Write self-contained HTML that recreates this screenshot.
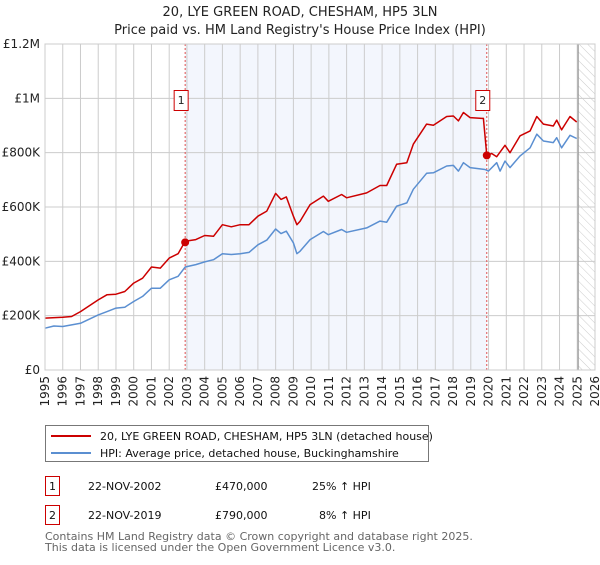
<!DOCTYPE html>
<html><head><meta charset="utf-8">
<style>
body{margin:0;background:#fff;font-family:"Liberation Sans","DejaVu Sans",sans-serif;}
svg text{font-family:"DejaVu Sans","Liberation Sans",sans-serif;}
</style></head>
<body>
<svg id="chart" width="600" height="560" viewBox="0 0 600 560" xmlns="http://www.w3.org/2000/svg">
<defs>
<pattern id="hatch" width="6" height="6" patternUnits="userSpaceOnUse" patternTransform="rotate(-45)">
<line x1="0" y1="0" x2="0" y2="6" stroke="#ccc" stroke-width="1"/>
</pattern>
</defs>
<text x="300" y="16" text-anchor="middle" font-size="13" fill="#222">20, LYE GREEN ROAD, CHESHAM, HP5 3LN</text>
<text x="300" y="34" text-anchor="middle" font-size="13" fill="#222">Price paid vs. HM Land Registry's House Price Index (HPI)</text>
<g id="plot"></g>
<g>
<rect x="45.5" y="425.5" width="383" height="36" fill="#fff" stroke="#777"/>
<line x1="51" y1="436" x2="91" y2="436" stroke="#cc0000" stroke-width="2"/>
<text x="100" y="440" font-size="11" fill="#111">20, LYE GREEN ROAD, CHESHAM, HP5 3LN (detached house)</text>
<line x1="51" y1="453" x2="91" y2="453" stroke="#5b8fd1" stroke-width="2"/>
<text x="100" y="457" font-size="11" fill="#111">HPI: Average price, detached house, Buckinghamshire</text>
</g>
<g font-size="11" fill="#111">
<rect x="45.5" y="476.5" width="14" height="19" fill="#fff" stroke="#cc0000"/>
<text x="52.5" y="490" text-anchor="middle">1</text>
<text x="88" y="490">22-NOV-2002</text>
<text x="215" y="490">£470,000</text>
<text x="312" y="490">25% ↑ HPI</text>
<rect x="45.5" y="505.5" width="14" height="19" fill="#fff" stroke="#cc0000"/>
<text x="52.5" y="519" text-anchor="middle">2</text>
<text x="88" y="519">22-NOV-2019</text>
<text x="215" y="519">£790,000</text>
<text x="319" y="519">8% ↑ HPI</text>
</g>
<text x="45" y="540" font-size="11" fill="#666">Contains HM Land Registry data © Crown copyright and database right 2025.</text>
<text x="45" y="551" font-size="11" fill="#666">This data is licensed under the Open Government Licence v3.0.</text>
</svg>
<script>
const yearTicks=[1995,1996,1997,1998,1999,2000,2001,2002,2003,2004,2005,2006,2007,2008,2009,2010,2011,2012,2013,2014,2015,2016,2017,2018,2019,2020,2021,2022,2023,2024,2025,2026];
const valueTicks=[0,200000,400000,600000,800000,1000000,1200000];
const valueLabels=["£0","£200K","£400K","£600K","£800K","£1M","£1.2M"];
const hpiYears=[1995,1995.5,1996,1997,1998,1998.5,1999,1999.5,2000,2000.5,2001,2001.5,2002,2002.5,2002.9,2003.5,2004,2004.5,2005,2005.5,2006,2006.5,2007,2007.5,2008,2008.3,2008.6,2009,2009.2,2009.37,2009.94,2010.69,2010.97,2011.72,2012.0,2013.13,2013.88,2014.26,2014.82,2015.39,2015.76,2016.51,2016.89,2017.64,2018.02,2018.3,2018.58,2018.96,2019.8,2019.99,2020.46,2020.65,2020.93,2021.21,2021.78,2022.34,2022.72,2023.09,2023.65,2023.84,2024.12,2024.59,2024.97];
const hpiValues=[154,162,160,172,203,215,228,231,252,271,301,301,332,345,379,388,398,406,428,425,428,433,461,478,519,502,511,468,428,437,480,510,498,517,507,523,548,544,603,615,665,724,726,751,753,732,763,745,738,732,763,732,769,745,788,818,868,843,837,855,818,864,852];
const propYears=[1995,1996,1996.5,1997,1998,1998.5,1999,1999.5,2000,2000.5,2001,2001.5,2002,2002.5,2002.9,2003.5,2004,2004.5,2005,2005.5,2006,2006.5,2007,2007.5,2008,2008.3,2008.6,2009,2009.2,2009.37,2009.94,2010.69,2010.97,2011.72,2012.0,2013.13,2013.88,2014.26,2014.82,2015.39,2015.76,2016.51,2016.89,2017.64,2018.02,2018.3,2018.58,2018.96,2019.61,2019.71,2019.9,2020.18,2020.46,2020.93,2021.21,2021.78,2022.34,2022.72,2023.09,2023.65,2023.84,2024.12,2024.59,2024.97];
const propValues=[191,194,197,215,258,277,279,289,320,338,379,375,412,428,474,480,495,492,535,527,535,535,566,585,650,628,637,566,535,547,609,640,621,646,634,652,679,679,757,763,831,905,901,933,935,917,948,929,926,926,790,797,785,827,800,862,880,933,905,898,920,884,933,913];
const saleYears=[2002.9,2019.9];
const saleValues=[470,790];
const saleLabels=["1","2"];

const X0=45,X1=595,Y0=370,Y1=44;
const xs=y=>X0+(y-1995)/(2026-1995)*(X1-X0);
const ys=v=>Y0-v/1200000*(Y0-Y1);
const NS="http://www.w3.org/2000/svg";
const g=document.getElementById('plot');
function mk(tag,attrs,parent){const e=document.createElementNS(NS,tag);for(const k in attrs)e.setAttribute(k,attrs[k]);(parent||g).appendChild(e);return e;}

const shade=mk('rect',{x:xs(saleYears[0]),y:Y1,width:xs(saleYears[1])-xs(saleYears[0]),height:Y0-Y1,fill:'#eef2fc',opacity:0.7});


const hat=mk('rect',{x:xs(2025.05),y:Y1,width:X1-xs(2025.05),height:Y0-Y1,fill:'url(#hatch)'});



yearTicks.forEach(yr=>{
  const l=mk('line',{x1:xs(yr),x2:xs(yr),y1:Y1,y2:Y0,stroke:'#ccc','stroke-width':1});
  
  
  const t=mk('text',{x:0,y:0,'font-size':12,fill:'#222','text-anchor':'end',transform:`translate(${xs(yr)+4},${Y0+6}) rotate(-90)`});
  t.textContent=yr;
  
  
});
valueTicks.forEach((v,i)=>{
  const l=mk('line',{x1:X0,x2:X1,y1:ys(v),y2:ys(v),stroke:'#ccc','stroke-width':1});
  
  
  const t=mk('text',{x:40,y:ys(v)+4,'font-size':12,fill:'#222','text-anchor':'end'});
  t.textContent=valueLabels[i];
  
  
});
const vl=mk('line',{x1:xs(2025.05),x2:xs(2025.05),y1:Y1,y2:Y0,stroke:'#999','stroke-width':1.2});



saleYears.forEach((yr,i)=>{
  const l=mk('line',{x1:xs(yr),x2:xs(yr),y1:Y1,y2:Y0,stroke:'#e05050','stroke-width':1,'stroke-dasharray':'2,2'});
  
  
});

function path(xa,va,color,name){
  const d=xa.map((x,i)=>(i?'L':'M')+xs(x).toFixed(1)+','+ys(va[i]*1000).toFixed(1)).join('');
  const p=mk('path',{d:d,fill:'none',stroke:color,'stroke-width':1.5,'stroke-linejoin':'round'});
  
  
}
path(hpiYears,hpiValues,'#5b8fd1','hpi-line');
path(propYears,propValues,'#cc0000','property-price-line');

saleYears.forEach((yr,i)=>{
  const c=mk('circle',{cx:xs(yr),cy:ys(saleValues[i]*1000),r:4,fill:'#cc0000'});
  
  
  const bx=xs(yr)-4;
  const r=mk('rect',{x:bx-7,y:90.5,width:14,height:20,fill:'#fff',stroke:'#cc0000'});
  
  
  const t=mk('text',{x:bx,y:104,'font-size':11,fill:'#222','text-anchor':'middle'});
  t.textContent=saleLabels[i];
  
  
});
const frame=mk('rect',{x:X0,y:Y1,width:X1-X0,height:Y0-Y1,fill:'none',stroke:'#ccc'});


</script>
</body></html>
